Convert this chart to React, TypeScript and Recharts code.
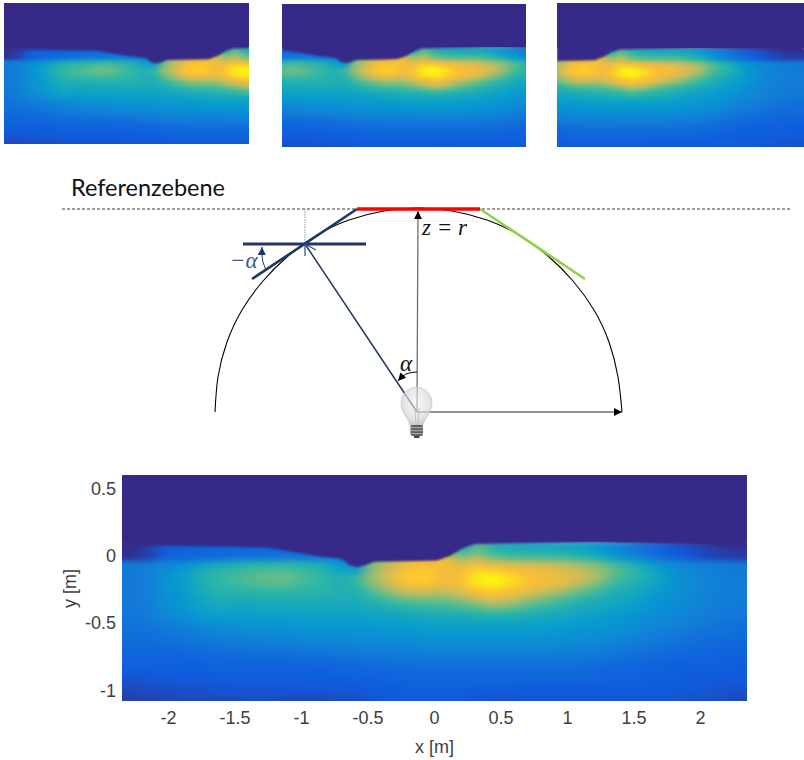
import React from 'react';
import { ComposedChart, Scatter, Area, Line, XAxis, YAxis, ReferenceDot, ReferenceArea } from 'recharts';

// ---- heat field (percent of colour range) ----
const xCenters = [-2.28,-2.15,-2.02,-1.89,-1.76,-1.63,-1.50,-1.37,-1.24,-1.11,-0.98,-0.85,-0.72,-0.59,-0.46,-0.33,-0.20,-0.07,0.07,0.20,0.33,0.46,0.59,0.72,0.85,0.98,1.11,1.24,1.37,1.50,1.63,1.76,1.89,2.02,2.15,2.28];
const yCenters = [0.08,0.03,-0.02,-0.07,-0.12,-0.17,-0.22,-0.27,-0.32,-0.37,-0.42,-0.47,-0.52,-0.57,-0.62,-0.67,-0.72,-0.77,-0.82,-0.87,-0.92,-0.97,-1.02,-1.07];
const heatRows = [
[1,4,11,14,16,17,17,17,17,17,15,14,12,12,60,70,78,82,84,30,56,46,44,42,42,42,40,36,30,24,18,13,10,6,4,2],
[1,5,13,15,16,17,17,17,17,17,16,16,18,18,60,70,78,82,84,50,60,50,47,46,46,45,43,38,32,25,19,14,11,7,5,3],
[2,6,15,17,18,20,22,23,24,25,24,24,24,22,60,70,80,84,84,64,70,60,56,55,55,54,50,46,38,30,23,17,14,9,7,5],
[24,25,28,32,38,42,45,47,48,49,47,44,38,30,62,72,82,85,84,78,82,78,76,74,72,70,65,60,52,46,38,32,28,26,24,24],
[24,26,32,37,44,49,51,53,55,55,52,48,42,40,64,76,88,90,85,84,93,92,88,84,82,78,73,66,57,50,42,36,30,27,25,24],
[24,26,33,38,45,50,53,55,58,58,54,50,46,50,66,78,90,91,83,86,97,100,94,87,84,80,74,65,54,48,44,36,32,28,26,24],
[24,26,33,38,44,49,51,53,55,55,52,50,46,48,62,72,84,85,80,84,95,98,92,85,82,76,67,59,50,46,41,36,32,28,26,25],
[24,26,33,37,43,47,48,49,50,50,49,48,46,46,55,65,74,74,72,78,87,90,86,80,73,66,58,52,46,43,39,35,31,28,26,25],
[24,26,32,36,41,45,45,45,46,46,46,46,45,45,49,54,60,61,61,66,74,79,74,66,60,55,50,46,43,41,37,33,30,27,25,25],
[23,25,31,35,40,43,42,42,43,43,43,43,43,43,45,48,50,52,53,55,60,66,62,55,52,48,45,43,41,38,35,32,29,27,25,24],
[23,25,30,34,38,41,40,40,41,41,41,41,41,41,42,43,45,46,47,48,50,53,50,48,46,44,42,40,38,36,33,30,28,26,24,23],
[22,24,28,31,35,37,37,37,38,38,39,39,39,39,40,40,41,42,43,43,44,44,44,43,42,41,39,38,36,34,31,29,27,25,23,22],
[21,22,24,26,29,31,33,34,35,35,36,36,36,37,37,38,38,39,40,40,40,40,40,39,39,38,37,36,34,32,29,27,25,23,21,20],
[20,21,22,24,26,28,29,30,31,32,33,33,33,34,34,35,35,36,36,37,37,37,37,37,36,35,34,33,32,30,27,25,23,21,20,19],
[19,19,20,22,23,25,26,27,28,28,29,30,30,31,31,32,32,33,33,33,34,34,34,33,33,33,32,31,29,27,25,23,21,19,18,18],
[18,18,18,19,20,22,23,23,24,25,25,26,27,27,28,29,29,30,30,30,30,30,30,30,30,29,29,28,26,24,22,20,19,18,17,16],
[16,16,16,17,18,19,19,20,20,21,21,22,23,24,25,25,26,26,26,26,27,27,27,27,26,26,25,24,23,21,19,18,17,16,15,15],
[15,15,15,15,16,16,17,17,17,17,18,18,19,20,21,22,22,23,23,23,23,23,23,23,23,22,22,21,20,18,17,16,15,15,14,14],
[14,14,14,14,14,15,15,15,15,15,15,16,16,17,18,19,19,20,20,20,20,20,20,20,20,20,19,18,17,16,15,14,14,14,14,13],
[12,12,13,13,13,14,14,14,14,14,14,14,15,15,16,16,17,17,17,17,17,17,17,17,17,17,17,16,15,15,14,14,13,13,13,13],
[10,11,11,12,12,12,13,13,13,13,13,13,13,14,14,15,15,15,15,15,15,15,15,15,15,15,15,15,14,14,13,13,13,13,12,12],
[9,9,10,10,10,11,11,11,11,11,12,12,12,12,13,13,14,14,14,14,14,14,14,13,13,13,13,13,13,13,13,12,12,12,11,11],
[7,8,8,9,9,10,10,10,10,10,10,10,11,11,12,13,13,13,13,13,12,12,12,12,12,12,12,12,12,12,12,12,11,11,10,9],
[5,6,7,8,8,8,8,9,9,8,8,8,9,9,10,12,12,12,12,12,11,10,10,11,11,11,11,11,11,11,11,11,10,10,9,8],
];
// upper limit of the lit region
const edgeX = [-2.4,-2.1,-1.8,-1.5,-1.25,-1.1,-0.9,-0.72,-0.68,-0.64,-0.58,-0.52,-0.47,-0.44,-0.1,0.02,0.12,0.22,0.3,0.6,1.2,1.6,2.0,2.4];
const edgeY = [0.07,0.075,0.07,0.065,0.06,0.035,0,-0.02,-0.035,-0.07,-0.085,-0.07,-0.05,-0.045,-0.04,-0.035,0,0.06,0.085,0.09,0.1,0.09,0.08,0.06];

const xTicks = [-2,-1.5,-1,-0.5,0,0.5,1,1.5,2];
const yTicks = [-1,-0.5,0,0.5];

const cells = yCenters.flatMap((y, r) => xCenters.map((x, c) => ({ x, y, v: heatRows[r][c], r, c })));
const edgeData = edgeX.map((x, i) => ({ x, edge: [edgeY[i], 0.8] }));

// colour map
const stops = [[53,42,135],[15,92,221],[18,125,216],[7,156,207],[46,183,164],[135,191,119],[215,187,85],[254,190,50],[249,251,14]];
const DARK = '#352a87';
function color(p: number) {
  const t = Math.min(0.9999, Math.max(0, p / 100)) * (stops.length - 1);
  const i = Math.floor(t), f = t - i;
  const a = stops[i], b = stops[i + 1];
  return `rgb(${a.map((q, k) => Math.round(q + (b[k] - q) * f)).join(',')})`;
}

const CELL_X = 0.14, CELL_Y = 0.05;
const Y_DOMAIN: [number, number] = [-1.08, 0.6];
const X_DOMAIN: [number, number] = [-2.35, 2.35];

function heatShape(pxX: number, pxY: number) {
  return (p: any) => {
    const { cx, cy, payload } = p;
    const w = CELL_X * pxX + 0.6, h = CELL_Y * pxY + 0.6;
    const pad = 40;
    let x = cx - w / 2, y = cy - h / 2, W = w, H = h;
    if (payload.c === 0) { x -= pad; W += pad; }
    if (payload.c === xCenters.length - 1) { W += pad; }
    if (payload.r === yCenters.length - 1) { H += pad; }
    return <rect x={x} y={y} width={W} height={H} fill={color(payload.v)} shapeRendering="crispEdges" />;
  };
}

// sits over the heat field, same plot box and same domains
function DarkOverlay({ left, top, w, h, dom, yDom }: { left: number; top: number; w: number; h: number; dom: [number, number]; yDom: [number, number] }) {
  return (
    <div style={{ position: 'absolute', left, top }}>
      <ComposedChart width={w} height={h} data={edgeData} margin={{ top: 0, right: 0, bottom: 0, left: 0 }}>
        <XAxis hide type="number" dataKey="x" domain={dom} allowDataOverflow />
        <YAxis hide type="number" domain={yDom} allowDataOverflow />
        <Area className="edgeS" type="linear" dataKey="edge" fill={DARK} fillOpacity={1} stroke="none" dot={false} activeDot={false} isAnimationActive={false} />
        <ReferenceArea y1={0.105} y2={yDom[1]} fill={DARK} fillOpacity={1} stroke="none" />
      </ComposedChart>
    </div>
  );
}

function SmallMap({ left, top, w, h, dom, yDom }: { left: number; top: number; w: number; h: number; dom: [number, number]; yDom: [number, number] }) {
  const pxX = w / (dom[1] - dom[0]);
  const pxY = h / (yDom[1] - yDom[0]);
  return (
    <>
      <div style={{ position: 'absolute', left, top }}>
        <ComposedChart width={w} height={h} margin={{ top: 0, right: 0, bottom: 0, left: 0 }}>
          <XAxis hide type="number" dataKey="x" domain={dom} allowDataOverflow />
          <YAxis hide type="number" dataKey="y" domain={yDom} allowDataOverflow />
          <Scatter className="heatS" data={cells} shape={heatShape(pxX, pxY)} isAnimationActive={false} />
        </ComposedChart>
      </div>
      <DarkOverlay left={left} top={top} w={w} h={h} dom={dom} yDom={yDom} />
    </>
  );
}

function BigMap() {
  const w = 625, h = 226;
  const pxX = w / 4.7, pxY = h / (Y_DOMAIN[1] - Y_DOMAIN[0]);
  const tick = { fontFamily: 'Liberation Sans', fontSize: 18, fill: '#404040' };
  return (
    <>
      <div style={{ position: 'absolute', left: 0, top: 465 }}>
        <ComposedChart width={804} height={295} margin={{ top: 10, right: 57, bottom: 29, left: 62 }}>
          <XAxis type="number" dataKey="x" domain={X_DOMAIN} allowDataOverflow ticks={xTicks} axisLine={false} tickLine={false} tick={tick} height={30} tickMargin={4} interval={0}
            label={{ value: 'x [m]', position: 'insideBottom', offset: -22, fontFamily: 'Liberation Sans', fontSize: 18, fill: '#404040' }} />
          <YAxis type="number" dataKey="y" domain={Y_DOMAIN} allowDataOverflow ticks={yTicks} axisLine={false} tickLine={false} tick={tick} width={60} tickMargin={0} interval={0}
            label={{ value: 'y [m]', angle: -90, position: 'insideLeft', offset: 8, dy: 20, fontFamily: 'Liberation Sans', fontSize: 18, fill: '#404040' }} />
          <Scatter className="heatB" data={cells} shape={heatShape(pxX, pxY)} isAnimationActive={false} />
        </ComposedChart>
      </div>
      <DarkOverlay left={122} top={475} w={w} h={h} dom={X_DOMAIN} yDom={Y_DOMAIN} />
    </>
  );
}

// ---- schematic: positions, in picture units ----
const pts = (a: number[][]) => a.map(([x, y]) => ({ x, y }));
const refPlane = pts([[62,209],[790,209]]);
const sphere = pts([[215,412],[218,377],[227,342],[242,310],[263,281],[288,256],[317,235],[349,220],[384,211],[418,208],[452,211],[487,220],[519,235],[548,256],[573,281],[594,310],[609,342],[618,377],[622,412]]);
const redPlane = pts([[357,209],[480,209]]);
const greenTangent = pts([[480,209],[585,279]]);
const navyLevel = pts([[243,244],[366,244]]);
const navyTangent = pts([[252,279],[357,209]]);
const dropLine = pts([[305,209],[305,244]]);
const rayLine = pts([[417,412],[305,244]]);
const rayHead = pts([[305,256],[305,244],[316,250]]);
const zAxisLine = pts([[417,412],[418,211]]);
const rAxisLine = pts([[417,412],[622,412]]);
const alphaArc = pts([[417,372],[409,373],[403,376],[398,381]]);
const minusAlphaArc = pts([[266,270],[263,262],[262,254],[262,247]]);

function DiagramLine(data: any[], stroke: string, strokeWidth: number, extra: any = {}) {
  return <Line data={data} dataKey="y" stroke={stroke} strokeWidth={strokeWidth} dot={false} activeDot={false} type="linear" isAnimationActive={false} {...extra} />;
}

const textMark = (label: string, style: any) => (p: any) => (
  <text x={p.cx} y={p.cy} {...style}>{label}</text>
);

const bulbShape = (p: any) => {
  const x = p.cx, y = p.cy;
  return (
    <g>
      <path d={`M${x - 7} ${y + 14} C${x - 8} ${y + 6} ${x - 16} ${y + 2} ${x - 16} ${y - 9} A15.5 16 0 1 1 ${x + 15} ${y - 9} C${x + 15} ${y + 2} ${x + 7} ${y + 6} ${x + 6} ${y + 14} Z`} fill="url(#bulbGlass)" stroke="#c4c4c4" strokeWidth={0.6} />
      <rect x={x - 6.5} y={y + 13} width={12.5} height={11} rx={2} fill="#5e5e5e" />
      <rect x={x - 6.5} y={y + 15} width={12.5} height={1.2} fill="#a8a8a8" />
      <rect x={x - 6.5} y={y + 18} width={12.5} height={1.2} fill="#a8a8a8" />
      <rect x={x - 6.5} y={y + 21} width={12.5} height={1.2} fill="#a8a8a8" />
      <rect x={x - 3} y={y + 24} width={5.5} height={2} fill="#444" />
      <path d={`M${x - 1} ${y + 13} L${x - 2} ${y - 4} M${x + 1} ${y + 13} L${x + 2} ${y - 4}`} stroke="#bbb" strokeWidth={0.8} fill="none" />
    </g>
  );
};

const NAVY = '#1f3864';
const NAVY_LIGHT = '#2f5080';
const MATH = { fontFamily: 'Liberation Serif', fontStyle: 'italic', fontSize: 23 };

function Diagram() {
  return (
    <div style={{ position: 'absolute', left: 0, top: 170 }}>
      <ComposedChart width={804} height={280} margin={{ top: 0, right: 0, bottom: 0, left: 0 }}>
        <XAxis hide type="number" dataKey="x" domain={[0, 804]} allowDataOverflow={false} />
        <YAxis hide type="number" reversed domain={[170, 450]} allowDataOverflow={false} />
        <ReferenceDot x={417} y={412} r={0} ifOverflow="visible" shape={bulbShape} />
        {DiagramLine(refPlane, '#3a3a3a', 1, { strokeDasharray: '3 2' })}
        {DiagramLine(sphere, '#000', 1.1, { type: 'natural' })}
        {DiagramLine(dropLine, '#8496b0', 1, { strokeDasharray: '1.5 1' })}
        {DiagramLine(navyTangent, NAVY, 2.6)}
        {DiagramLine(navyLevel, NAVY, 3)}
        {DiagramLine(greenTangent, '#92d050', 2.6)}
        {DiagramLine(redPlane, '#ff0000', 3.6)}
        {DiagramLine(zAxisLine, '#6e6e6e', 1.3, { markerEnd: 'url(#arrowBlack)' })}
        {DiagramLine(rAxisLine, '#6e6e6e', 1.3, { markerEnd: 'url(#arrowBlack)' })}
        {DiagramLine(rayLine, NAVY, 1.5)}
        {DiagramLine(rayHead, NAVY_LIGHT, 1.2)}
        {DiagramLine(alphaArc, '#000', 1, { type: 'natural', markerEnd: 'url(#arrowBlack)' })}
        {DiagramLine(minusAlphaArc, NAVY, 1, { type: 'natural', markerEnd: 'url(#arrowNavy)' })}
        <ReferenceDot x={71} y={196} r={0} ifOverflow="visible" shape={textMark('Referenzebene', { fontFamily: 'Lato', fontSize: 23.5, fill: '#111' })} />
        <ReferenceDot x={422} y={235} r={0} ifOverflow="visible" shape={textMark('z = r', { ...MATH, fill: '#111' })} />
        <ReferenceDot x={400} y={371} r={0} ifOverflow="visible" shape={textMark('α', { ...MATH, fill: '#111' })} />
        <ReferenceDot x={230} y={268} r={0} ifOverflow="visible" shape={textMark('−α', { ...MATH, fill: '#3b5a8c' })} />
      </ComposedChart>
    </div>
  );
}

export default function App() {
  return (
    <div style={{ position: 'absolute', left: 0, top: 0, width: 804, height: 760, overflow: 'hidden', background: '#fff' }}>
      <style>{`
        .heatS { filter: url(#blurS); }
        .heatB { filter: url(#blurB); }
        .edgeS { filter: url(#blurE); }
      `}</style>
      <svg width={0} height={0} style={{ position: 'absolute' }}>
        <defs>
          <filter id="blurS" filterUnits="userSpaceOnUse" x={-200} y={-200} width={1200} height={800} colorInterpolationFilters="sRGB">
            <feGaussianBlur stdDeviation="4 1.8" />
          </filter>
          <filter id="blurB" filterUnits="userSpaceOnUse" x={-200} y={-200} width={1400} height={900} colorInterpolationFilters="sRGB">
            <feGaussianBlur stdDeviation="7 2.5" />
          </filter>
          <filter id="blurE" filterUnits="userSpaceOnUse" x={-200} y={-200} width={1400} height={900} colorInterpolationFilters="sRGB">
            <feGaussianBlur stdDeviation="1.1" />
          </filter>
          <marker id="arrowBlack" markerUnits="userSpaceOnUse" markerWidth={10} markerHeight={10} refX={8} refY={4} orient="auto">
            <path d="M0 0 L8 4 L0 8 Z" fill="#000" />
          </marker>
          <marker id="arrowNavy" markerUnits="userSpaceOnUse" markerWidth={10} markerHeight={10} refX={8} refY={4} orient="auto">
            <path d="M0 0 L8 4 L0 8 Z" fill="#1f3864" />
          </marker>
          <radialGradient id="bulbGlass" cx="0.5" cy="0.4" r="0.6">
            <stop offset="0" stopColor="#f2f2f2" stopOpacity={0.55} />
            <stop offset="0.7" stopColor="#d8d8d8" stopOpacity={0.7} />
            <stop offset="1" stopColor="#bdbdbd" stopOpacity={0.85} />
          </radialGradient>
        </defs>
      </svg>
      <SmallMap left={4} top={3} w={245} h={141} dom={[-2.32, 0.48]} yDom={[-1.01, 0.61]} />
      <SmallMap left={282} top={4} w={244} h={143} dom={[-1.32, 1.5]} yDom={[-1.05, 0.6]} />
      <SmallMap left={557} top={3} w={247} h={144} dom={[-0.41, 2.4]} yDom={[-1.03, 0.62]} />
      <Diagram />
      <BigMap />
    </div>
  );
}
